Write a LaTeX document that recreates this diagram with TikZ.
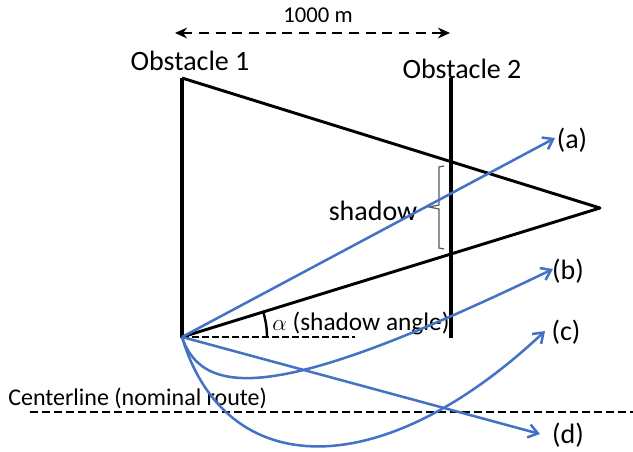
\documentclass[tikz,border=0pt]{standalone}
\usepackage{fontspec}
\setmainfont{Carlito}
\usetikzlibrary{arrows.meta,positioning}
\definecolor{route}{RGB}{68,114,196}

\begin{document}
\begin{tikzpicture}[x=0.75pt,y=0.75pt,
  big/.style={font=\fontsize{21}{25}\selectfont,inner sep=0pt},
  mid/.style={font=\fontsize{17}{20}\selectfont,inner sep=0pt},
  wall/.style={line width=3.4pt},
  edge/.style={line width=2.2pt,line join=round},
  dimline/.style={line width=2.2pt,dash pattern=on 7.5pt off 5pt,{Stealth[length=9pt,width=8pt]}-{Stealth[length=9pt,width=8pt]}},
  refline/.style={line width=2pt,dash pattern=on 5pt off 2.5pt},
  traj/.style={draw=route,line width=1.9pt,-{Straight Barb[length=7pt,width=10pt]}}]
\useasboundingbox (0,0) rectangle (633,451);
\coordinate (O) at (182,114);
\coordinate (w1top) at (182,373);
\coordinate (w1bot) at (182,113);
\coordinate (w2top) at (451,373);
\coordinate (w2bot) at (451,113);
\coordinate (apex) at (600,243);
\coordinate (ref) at (355,114);
\coordinate (distL) at (175,418);
\coordinate (distR) at (450,418);
\node[big] (obs1) at (190,390) {Obstacle 1};
\node[big] (obs2) at (462,382) {Obstacle 2};
\node[mid] (dist) at (318,436) {1000 m};
\draw[dimline] (distL) -- (distR);
\draw[wall] (w1top) -- (w1bot);
\draw[wall] (w2top) -- (w2bot);
\draw[edge] (w1top) -- (apex) -- (O);
\draw[refline] (O) -- (ref);
\draw[line width=1.8pt] (O) ++(0:85) arc[start angle=0,end angle=17.1,radius=85];
\node[font=\fontsize{19}{23}\selectfont,inner sep=0pt] (angle) at (361,128) {$\alpha$ (shadow angle)};
\draw[gray!70!black,line width=0.9pt] (444,285) -- (439,284) -- (439,246) -- (429,244) -- (439,242) -- (439,203) -- (444,202);
\node[big] (shade) at (373,240) {shadow};
\coordinate (cl0) at (30,39);
\coordinate (cl1) at (633,39);
\draw[line width=2.2pt,dash pattern=on 6pt off 3pt] (cl0) -- (cl1);
\node[font=\fontsize{18}{22}\selectfont,inner sep=0pt,anchor=west] (cline) at (8,53) {Centerline (nominal route)};
\coordinate (tipa) at (555,313);
\coordinate (tipb) at (553,182);
\coordinate (tipc) at (545,120);
\coordinate (tipd) at (540,17);
\node[big] (la) at (572,311) {(a)};
\node[big] (lb) at (568,180) {(b)};
\node[big] (lc) at (566,119) {(c)};
\node[big] (ld) at (568,16) {(d)};
\draw[traj] (O) -- (tipa);
\draw[traj] (O) .. controls (205,45) and (300,60) .. (tipb);
\draw[traj] (O) .. controls (225,-30) and (380,-35) .. (tipc);
\draw[traj] (O) -- (tipd);
\end{tikzpicture}
\end{document}
